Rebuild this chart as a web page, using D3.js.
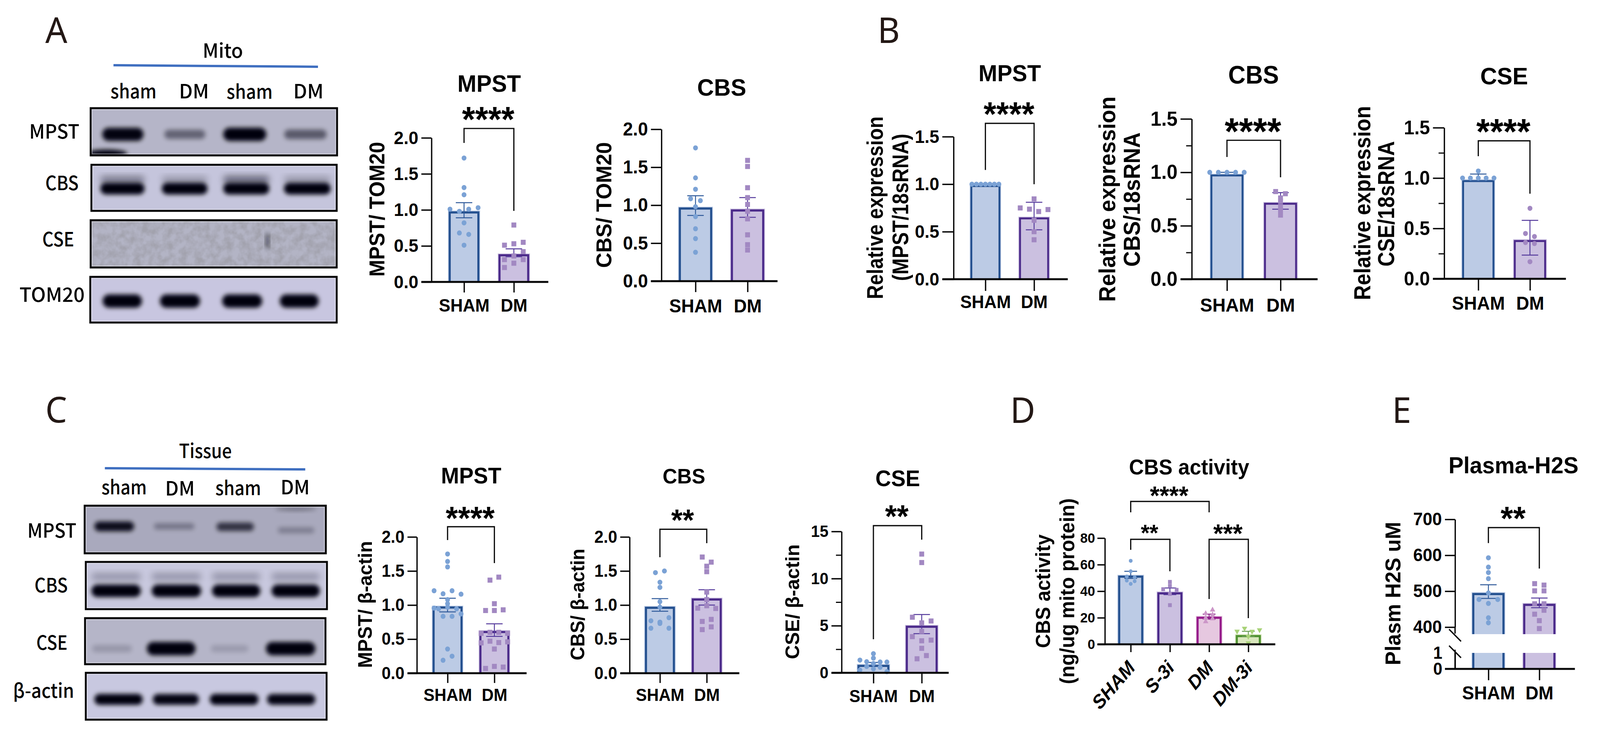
<!DOCTYPE html>
<html>
<head>
<meta charset="utf-8">
<style>
  html, body { margin: 0; background: #fff; overflow: hidden; }
  svg { display: block; width: 100vw; height: 100vh; }
</style>
<script src="https://cdn.jsdelivr.net/npm/d3@7"></script>
</head>
<body>
<svg id="chart" viewBox="0 0 4272 1872" preserveAspectRatio="none"></svg>
<script>
// swarm values: each inner array is one row of the Prism scatter, read left to right
const twoGroups = ["SHAM", "DM"];
const fourGroups = ["SHAM", "S-3i", "DM", "DM-3i"];

const ticksTwo = [0, 0.5, 1, 1.5, 2];
const ticksOneFive = [0, 0.5, 1, 1.5];
const minorOneFive = [0.25, 0.75, 1.25];
const ticksFifteen = [0, 5, 10, 15];
const minorFifteen = [2.5, 7.5, 12.5];
const ticksEighty = [0, 20, 40, 60, 80];
const ticksPlasma = [400, 500, 600, 700];

const aMpstSham = [[1.72], [1.31], [1.21], [1.01, 0.98, 1.01, 1.03], [0.82], [0.68, 0.66], [0.51]];
const aMpstDm = [[0.79], [0.51, 0.53, 0.55], [0.31, 0.36, 0.42], [0.2, 0.26, 0.31]];
const aMpstMean = [0.98, 0.385];
const aMpstHi = [1.1, 0.46];
const aMpstLo = [0.89, 0.35];

const aCbsSham = [[1.755], [1.36], [1.21], [1.085, 1.06], [0.98], [0.85], [0.69], [0.56], [0.38]];
const aCbsDm = [[1.59], [1.51], [1.23], [1.1], [1.01], [0.92], [0.82], [0.61], [0.48], [0.41]];
const aCbsMean = [0.97, 0.945];
const aCbsHi = [1.125, 1.1];
const aCbsLo = [0.865, 0.84];

const bMpstSham = [[1, 1, 1, 1, 1, 1, 1]];
const bMpstDm = [[0.845], [0.75, 0.737, 0.712, 0.733], [0.62], [0.5], [0.415]];
const bMpstMean = [0.99, 0.65];
const bMpstHi = [1, 0.81];
const bMpstLo = [0.98, 0.52];

const bCbsSham = [[1, 1, 1, 1, 1]];
const bCbsDm = [[0.82, 0.8], [0.76], [0.73], [0.68], [0.645], [0.6]];
const bCbsMean = [0.98, 0.715];
const bCbsHi = [1, 0.81];
const bCbsLo = [0.97, 0.655];

const bCseSham = [[1.07], [1, 1, 1, 1, 1]];
const bCseDm = [[0.7], [0.45, 0.42], [0.36, 0.35], [0.17]];
const bCseMean = [0.98, 0.385];
const bCseHi = [1.04, 0.58];
const bCseLo = [0.97, 0.235];

const cMpstSham = [[1.75], [1.64], [1.56], [1.21, 1.166, 1.21, 1.16], [1.08], [1.02], [0.945, 0.97, 0.945], [0.955, 0.835, 0.835, 0.87], [0.355], [0.19, 0.25]];
const cMpstDm = [[1.366, 1.41], [1.02], [0.92, 0.92, 0.93], [0.585, 0.6, 0.6, 0.585], [0.445, 0.47, 0.45, 0.46], [0.355], [0.07, 0.1, 0.09]];
const cMpstMean = [0.98, 0.62];
const cMpstHi = [1.1, 0.725];
const cMpstLo = [0.9, 0.54];

const cCbsSham = [[1.476, 1.5], [1.335], [1.26], [1.05], [0.97], [0.77, 0.73, 0.815], [0.66, 0.75, 0.66]];
const cCbsDm = [[1.705, 1.63], [1.57], [1.49], [1.19], [1.08], [0.955, 0.99, 0.95], [0.76, 0.79], [0.64, 0.68]];
const cCbsMean = [0.975, 1.097];
const cCbsHi = [1.095, 1.225];
const cCbsLo = [0.91, 1];

const cCseSham = [[2.03], [1.35, 1.18, 1.56, 1.15, 1.15], [0.98], [0.29, 0.68, 0.42, 0.59, 0.12]];
const cCseDm = [[12.6], [11.7], [5.9, 5.3, 5.5], [4.4], [3.84, 3.4, 3.47], [2.6], [1.49, 1.83]];
const cCseMean = [0.85, 5];
const cCseHi = [1.1, 6.18];
const cCseLo = [0.72, 4.15];

const dSham = [[62.9], [55], [51, 50.5], [48, 47.5], [45.5]];
const dS3i = [[47], [44], [41.5, 41], [38], [29.5]];
const dDm = [[23.2, 25.9], [19.8, 22.3], [17.1, 19.3]];
const dDm3i = [[9.8, 12, 9.7, 10.8], [5.9], [1]];
const dMean = [51.8, 39.2, 20.8, 7];
const dHi = [55, 42.4, 22.7, 9.8];
const dLo = [49.6, 37.4, 19, 5.9];

const eSham = [[593], [567], [552], [535], [495], [477, 466, 477], [426], [412]];
const eDm = [[521, 517], [501, 501], [465, 465], [436, 447], [418], [396]];
const eMean = [495, 465];
const eHi = [518, 481];
const eLo = [480, 454];

// band darkness per lane for the blots
const mitoMpst = [0.98, 0.45, 1, 0.5];
const mitoCbs = [1, 1, 1, 1];
const mitoCbsUpper = [0.45, 0.3, 0.55, 0.3];
const mitoTom = [1, 1, 1, 1];
const tissueMpst = [0.92, 0.3, 0.7, 0.25];
const tissueCbs = [1, 1, 1, 1];
const tissueCbsUpper = [0.3, 0.3, 0.3, 0.3];
const tissueCse = [0.16, 1, 0.14, 1];
const tissueActin = [1, 0.98, 1, 0.98];

const blue = { stroke: "#24508f", fill: "#bccbe5", point: "#7ba2d5", err: "#2f5a9a", shape: d3.symbolCircle };
const purple = { stroke: "#4b2a8a", fill: "#cbc0e0", point: "#a288c2", err: "#553a9c", shape: d3.symbolSquare };
const purpleDots = { ...purple, shape: d3.symbolCircle };
const pink = { stroke: "#951a8a", fill: "#e6c8e0", point: "#cc96c8", err: "#8d2a8c", shape: d3.symbolTriangle };
const green = { stroke: "#4e9130", fill: "#d9e7bd", point: "#a8d278", err: "#6d9f58", shape: d3.symbolTriangle, flip: true };

const FONT = "'Liberation Sans', Arial, sans-serif";
const BLOT_FONT = "'Noto Sans CJK SC', 'Noto Sans', sans-serif";

const svg = d3.select("#chart");
const defs = svg.append("defs");

defs.append("filter").attr("id", "blur").attr("x", "-30%").attr("y", "-80%").attr("width", "160%").attr("height", "260%")
    .append("feGaussianBlur").attr("stdDeviation", 6);
defs.append("filter").attr("id", "softBlur").attr("x", "-30%").attr("y", "-80%").attr("width", "160%").attr("height", "260%")
    .append("feGaussianBlur").attr("stdDeviation", 9);
const grain = defs.append("filter").attr("id", "grain");
grain.append("feTurbulence").attr("type", "fractalNoise").attr("baseFrequency", 0.05).attr("numOctaves", 3).attr("seed", 4);
grain.append("feColorMatrix").attr("values", "0 0 0 0 0.36  0 0 0 0 0.36  0 0 0 0 0.42  2.2 0 0 0 -0.7");

const fitText = (g, text, x, y, len, size, family, weight) =>
    g.append("text")
        .attr("x", x)
        .attr("y", y)
        .attr("textLength", len)
        .attr("lengthAdjust", "spacingAndGlyphs")
        .attr("font-family", family)
        .attr("font-weight", weight)
        .attr("font-size", size)
        .attr("fill", "#000")
        .text(text);

const drawBlot = (g, b) => {
    const id = `clip${b.x0}-${b.y0}`;
    defs.append("clipPath").attr("id", id).append("rect")
        .attr("x", b.x0).attr("y", b.y0).attr("width", b.x1 - b.x0).attr("height", b.y1 - b.y0);
    const inner = g.append("g").attr("clip-path", `url(#${id})`);
    inner.append("rect")
        .attr("x", b.x0).attr("y", b.y0).attr("width", b.x1 - b.x0).attr("height", b.y1 - b.y0)
        .attr("fill", b.bg);
    if (b.noise) {
        inner.append("rect")
            .attr("x", b.x0).attr("y", b.y0).attr("width", b.x1 - b.x0).attr("height", b.y1 - b.y0)
            .attr("filter", "url(#grain)");
    }
    const band = (values, rowY, rowH, blur) => {
        const lanes = d3.range(values.length);
        const opacity = d3.scaleLinear().domain([0, 1]).range([0, 1]);
        const thick = d3.scaleLinear().domain([0, 1]).range([rowH * 0.45, rowH]);
        inner.append("g").selectAll("rect").data(lanes).enter().append("rect")
            .attr("x", i => b.lanes[i][0])
            .attr("width", i => b.lanes[i][1] - b.lanes[i][0])
            .attr("y", i => rowY[i] - thick(values[i]) / 2)
            .attr("height", i => thick(values[i]))
            .attr("rx", i => thick(values[i]) / 2)
            .attr("fill", "#020208")
            .attr("opacity", i => opacity(values[i]))
            .attr("filter", blur);
    };
    if (b.upper) band(b.upper, b.lanes.map(() => b.upperY), b.upperH, "url(#softBlur)");
    band(b.values, b.rowY || b.lanes.map(() => b.y), b.h, "url(#blur)");
    (b.extras || []).forEach(e => {
        inner.append("ellipse")
            .attr("cx", e.cx).attr("cy", e.cy).attr("rx", e.rx).attr("ry", e.ry)
            .attr("fill", "#020208").attr("opacity", e.o).attr("filter", "url(#blur)");
    });
    g.append("rect")
        .attr("x", b.x0).attr("y", b.y0).attr("width", b.x1 - b.x0).attr("height", b.y1 - b.y0)
        .attr("fill", "none").attr("stroke", "#050505").attr("stroke-width", 5);
    g.append("rect")
        .attr("x", b.x0 + 4).attr("y", b.y0 + 4).attr("width", b.x1 - b.x0 - 8).attr("height", b.y1 - b.y0 - 8)
        .attr("fill", "none").attr("stroke", "#fff").attr("stroke-opacity", 0.4).attr("stroke-width", 2);
    fitText(g, b.label, b.lx0, b.ly, b.lx1 - b.lx0, 50, BLOT_FONT, 500);
};

const drawBlotPanel = (p) => {
    const g = svg.append("g");
    fitText(g, p.head[0], p.head[1], p.head[3], p.head[2] - p.head[1], 50, BLOT_FONT, 500);
    g.append("path")
        .attr("d", d3.line()(p.rule))
        .attr("stroke", "#3f6fc0").attr("stroke-width", 6).attr("fill", "none");
    p.laneLabels.forEach(l => fitText(g, l[0], l[1], l[3], l[2] - l[1], 50, BLOT_FONT, 500));
    p.blots.forEach(b => drawBlot(g, b));
};

const drawStars = (g, stars, x, y, size) =>
    g.append("text")
        .attr("x", x)
        .attr("y", y + size * 0.57)
        .attr("text-anchor", "middle")
        .attr("font-family", FONT)
        .attr("font-weight", 700)
        .attr("font-size", size)
        .text(stars);

const drawGroupPoints = (g, rows, cx, y, c, step, size) => {
    const pts = [];
    rows.forEach(row => row.forEach((v, i) => pts.push({ v, x: cx + (i - (row.length - 1) / 2) * step })));
    g.append("g").selectAll("path").data(pts).enter().append("path")
        .attr("d", d3.symbol().type(c.shape).size(c.shape === d3.symbolCircle ? Math.PI * size * size / 4 : c.shape === d3.symbolSquare ? size * size : size * size * 0.9))
        .attr("transform", d => `translate(${d.x},${y(d.v)})${c.flip ? " rotate(180)" : ""}`)
        .attr("fill", c.point);
};

const drawBar = (g, cx, w, top, bottom, c, sw, closedTop) => {
    g.append("rect")
        .attr("x", cx - w / 2 - 2).attr("width", w + 4)
        .attr("y", closedTop ? top - 2 : top).attr("height", bottom - top + (closedTop ? 2 : 0))
        .attr("fill", c.fill);
    const d = closedTop
        ? `M${cx - w / 2 + sw / 2},${bottom}V${top + sw / 2}H${cx + w / 2 - sw / 2}V${bottom}`
        : `M${cx - w / 2 + sw / 2},${top}V${bottom}M${cx + w / 2 - sw / 2},${top}V${bottom}`;
    g.append("path").attr("d", d).attr("fill", "none").attr("stroke", c.stroke).attr("stroke-width", sw);
};

const drawErr = (g, cx, y, hi, lo, c, cap) => {
    const e = g.append("g").attr("stroke", c.err).attr("fill", "none");
    e.append("line").attr("x1", cx).attr("x2", cx).attr("y1", y(hi)).attr("y2", y(lo)).attr("stroke-width", 2.5);
    [hi, lo].forEach(v => e.append("line")
        .attr("x1", cx - cap).attr("x2", cx + cap).attr("y1", y(v)).attr("y2", y(v)).attr("stroke-width", 2.5));
};

const drawBracket = (g, x, y, b, starOffset) => {
    g.append("path")
        .attr("d", d3.line()([[x(b.from), y(b.left)], [x(b.from), y(b.top)], [x(b.to), y(b.top)], [x(b.to), y(b.right)]]))
        .attr("fill", "none").attr("stroke", "#0a0a0a").attr("stroke-width", 3.2);
    drawStars(g, b.stars, (x(b.from) + x(b.to)) / 2 + starOffset, y(b.starAt), b.starSize);
};

const drawTitle = (g, t) =>
    g.append("text")
        .attr("x", t.x).attr("y", t.y)
        .attr("text-anchor", "middle")
        .attr("font-family", FONT).attr("font-weight", 700).attr("font-size", t.size)
        .text(t.text);

const drawYLabel = (g, l) =>
    g.append("text")
        .attr("transform", `translate(${l.x + l.size * 0.36},${l.y}) rotate(-90)`)
        .attr("text-anchor", "middle")
        .attr("textLength", l.len)
        .attr("lengthAdjust", "spacingAndGlyphs")
        .attr("font-family", FONT).attr("font-weight", 700).attr("font-size", l.size)
        .text(l.text);

const styleAxis = (a, width, size) => {
    a.attr("font-family", FONT).attr("font-weight", 700).attr("font-size", size);
    a.selectAll("text").attr("fill", "#000");
    a.selectAll("line").attr("stroke", "#050505").attr("stroke-width", width);
    a.selectAll("path").attr("stroke", "#050505").attr("stroke-width", width);
};

const drawPanel = (p) => {
    const g = svg.append("g");
    const x = d3.scalePoint().domain(p.groups).range(p.centers);
    const y = d3.scaleLinear().domain([0, p.top]).range([p.y0, p.y1]);

    p.groups.forEach((name, i) => {
        drawBar(g, x(name), p.barW, y(p.mean[i]), p.y0, p.colors[i], p.barStroke || 5.5, true);
    });
    p.groups.forEach((name, i) => {
        drawErr(g, x(name), y, p.hi[i], p.lo[i], p.colors[i], p.cap || 22);
        drawGroupPoints(g, p.points[i], x(name), y, p.colors[i], p.steps[i], p.mark || 13);
    });

    const yAxis = g.append("g")
        .attr("transform", `translate(${p.axisX},0)`)
        .call(d3.axisLeft(y).tickValues(p.ticks).tickFormat(d3.format(p.format)).tickSize(p.tickL).tickPadding(p.pad || 8).tickSizeOuter(0));
    styleAxis(yAxis, 3.5, p.tickFont);
    if (p.minor) {
        const minor = g.append("g")
            .attr("transform", `translate(${p.axisX},0)`)
            .call(d3.axisLeft(y).tickValues(p.minor).tickFormat("").tickSize(p.minorL || 15).tickSizeOuter(0));
        minor.select(".domain").remove();
        styleAxis(minor, 3, p.tickFont);
    }

    const xAxis = g.append("g")
        .attr("transform", `translate(0,${p.y0})`)
        .call(d3.axisBottom(x).tickSize(p.xTickL || p.tickL).tickSizeOuter(0));
    xAxis.select(".domain").remove();
    styleAxis(xAxis, 3.5, p.xFont);
    if (p.rotated) {
        xAxis.selectAll("text")
            .attr("text-anchor", "end")
            .attr("dy", 0).attr("y", 0)
            .attr("font-style", "italic")
            .attr("transform", d => `translate(${p.rotated.dx},${p.rotated.dy}) rotate(-48)`);
    } else {
        xAxis.selectAll("text").attr("dy", 0).attr("y", p.labelY - p.y0);
    }
    g.append("line")
        .attr("x1", p.axisX - p.tickL).attr("x2", p.xEnd)
        .attr("y1", p.y0).attr("y2", p.y0)
        .attr("stroke", "#050505").attr("stroke-width", 5);

    (p.brackets || []).forEach(b => drawBracket(g, x, y, b, -2));
    drawTitle(g, p.title);
    p.yLabels.forEach(l => drawYLabel(g, l));
};

const drawPlasma = () => {
    const g = svg.append("g");
    const x = d3.scalePoint().domain(twoGroups).range([3974, 4110]);
    const upper = d3.scaleLinear().domain([400, 700]).range([1606, 1330]);
    const lower = d3.scaleLinear().domain([0, 1]).range([1713, 1672]);
    const barW = 86;
    const colors = [blue, purple];

    twoGroups.forEach((name, i) => {
        drawBar(g, x(name), barW, upper(eMean[i]), upper(380.5), colors[i], 5.5, true);
        drawBar(g, x(name), barW, lower(1), lower(0), colors[i], 5.5, false);
    });
    [eSham, eDm].forEach((rows, i) => {
        drawErr(g, x(twoGroups[i]), upper, eHi[i], eLo[i], colors[i], 22);
        drawGroupPoints(g, rows, x(twoGroups[i]), upper, colors[i], 25, 13);
    });

    const top = g.append("g").attr("transform", "translate(3885,0)")
        .call(d3.axisLeft(upper).tickValues(ticksPlasma).tickSize(27).tickPadding(8).tickSizeOuter(0));
    styleAxis(top, 3.5, 46);
    const bottom = g.append("g").attr("transform", "translate(3885,0)")
        .call(d3.axisLeft(lower).tickValues([0, 1]).tickFormat(d3.format("d")).tickSize(0).tickPadding(34).tickSizeOuter(0));
    styleAxis(bottom, 3.5, 44);
    const axisEdge = g.append("g").attr("stroke", "#050505").attr("stroke-width", 3.5);
    axisEdge.append("line").attr("x1", 3885).attr("x2", 3885).attr("y1", upper(400)).attr("y2", upper(382));
    axisEdge.append("line").attr("x1", 3885).attr("x2", 3885).attr("y1", lower(1.2)).attr("y2", lower(0));
    const slashes = g.append("g").attr("stroke", "#050505").attr("stroke-width", 3.5);
    [upper(394), lower(1.45)].forEach(yy => slashes.append("line")
        .attr("x1", 3869).attr("x2", 3901).attr("y1", yy).attr("y2", yy + 31));

    const xAxis = g.append("g").attr("transform", `translate(0,${lower(0)})`)
        .call(d3.axisBottom(x).tickSize(29).tickSizeOuter(0));
    xAxis.select(".domain").remove();
    styleAxis(xAxis, 3.5, 48);
    xAxis.selectAll("text").attr("dy", 0).attr("y", 1791 - lower(0));
    g.append("line").attr("x1", 3858).attr("x2", 4205).attr("y1", lower(0)).attr("y2", lower(0))
        .attr("stroke", "#050505").attr("stroke-width", 5);

    drawBracket(g, x, upper, { from: "SHAM", to: "DM", top: 677, left: 634, right: 563, stars: "**", starAt: 724, starSize: 86 }, -2);
    drawTitle(g, { text: "Plasma-H2S", x: 4041, y: 1212, size: 60 });
    drawYLabel(g, { text: "Plasm  H2S uM", x: 3718, y: 1520, len: 367, size: 58 });
};

// panel letters
const letters = [["A", 121, 110], ["B", 2343, 110], ["C", 121, 1082], ["D", 2697, 1083], ["E", 3717, 1083]];
svg.append("g").selectAll("text").data(letters).enter().append("text")
    .attr("x", d => d[1]).attr("y", d => d[2])
    .attr("font-family", "'Noto Sans', sans-serif").attr("font-size", 92).attr("fill", "#231815")
    .text(d => d[0]);

drawBlotPanel({
    head: ["Mito", 541, 649, 148],
    rule: [[303, 167], [849, 171]],
    laneLabels: [["sham", 295, 418, 252], ["DM", 478, 558, 252], ["sham", 605, 728, 253], ["DM", 783, 864, 252]],
    blots: [
        { x0: 242, x1: 900, y0: 277, y1: 398, bg: "#b5b5c8", values: mitoMpst, y: 344, h: 34, lanes: [[273, 383], [439, 548], [596, 711], [759, 872]],
          extras: [{ cx: 285, cy: 393, rx: 55, ry: 10, o: 1 }], label: "MPST", lx0: 78, lx1: 212, ly: 355 },
        { x0: 244, x1: 899, y0: 422, y1: 540, bg: "#c5c5dc", values: mitoCbs, y: 483, h: 30, upper: mitoCbsUpper, upperY: 460, upperH: 22, lanes: [[268, 386], [432, 554], [596, 719], [758, 883]],
          label: "CBS", lx0: 121, lx1: 210, ly: 487 },
        { x0: 242, x1: 899, y0: 564, y1: 685, bg: "#b3b4c5", noise: true, values: [0, 0, 0, 0], y: 620, h: 10, lanes: [[268, 386], [432, 554], [596, 719], [758, 883]],
          extras: [{ cx: 714, cy: 617, rx: 5, ry: 22, o: 0.6 }], label: "CSE", lx0: 113, lx1: 198, ly: 631 },
        { x0: 241, x1: 899, y0: 709, y1: 826, bg: "#c8c6e0", values: mitoTom, y: 771, h: 34, lanes: [[274, 379], [427, 534], [593, 700], [747, 851]],
          label: "TOM20", lx0: 52, lx1: 226, ly: 773 }
    ]
});

drawBlotPanel({
    head: ["Tissue", 478, 619, 1173],
    rule: [[280, 1199], [815, 1202]],
    laneLabels: [["sham", 271, 392, 1266], ["DM", 441, 520, 1269], ["sham", 575, 697, 1268], ["DM", 749, 827, 1266]],
    blots: [
        { x0: 226, x1: 870, y0: 1295, y1: 1417, bg: "#a9a9bd", values: tissueMpst, rowY: [1348, 1348, 1349, 1358], h: 26, lanes: [[252, 358], [411, 519], [578, 678], [742, 839]],
          extras: [{ cx: 790, cy: 1303, rx: 55, ry: 5, o: 0.35 }], label: "MPST", lx0: 73, lx1: 204, ly: 1377 },
        { x0: 229, x1: 873, y0: 1439, y1: 1560, bg: "#c8c8de", values: tissueCbs, y: 1513, h: 32, upper: tissueCbsUpper, upperY: 1477, upperH: 26, lanes: [[244, 376], [405, 537], [566, 695], [725, 854]],
          label: "CBS", lx0: 92, lx1: 181, ly: 1517 },
        { x0: 227, x1: 869, y0: 1583, y1: 1701, bg: "#b5b5c8", values: tissueCse, y: 1661, h: 34, lanes: [[246, 352], [392, 522], [563, 663], [710, 842]],
          label: "CSE", lx0: 97, lx1: 180, ly: 1664 },
        { x0: 229, x1: 872, y0: 1723, y1: 1843, bg: "#c8c8e0", values: tissueActin, y: 1791, h: 28, lanes: [[252, 381], [408, 531], [560, 690], [713, 842]],
          label: "β-actin", lx0: 35, lx1: 198, ly: 1787 }
    ]
});

const panels = [
    {
        groups: twoGroups, centers: [1239, 1372], top: 2, y0: 722, y1: 353, axisX: 1152, xEnd: 1464, barW: 82, tickL: 27, ticks: ticksTwo, format: ".1f",
        tickFont: 47, xFont: 46, labelY: 798, colors: [blue, purple], points: [aMpstSham, aMpstDm], steps: [25, 25], mean: aMpstMean, hi: aMpstHi, lo: aMpstLo,
        brackets: [{ from: "SHAM", to: "DM", top: 2.13, left: 1.93, right: 0.986, stars: "****", starAt: 2.363, starSize: 90 }],
        title: { text: "MPST", x: 1306, y: 235, size: 61 },
        yLabels: [{ text: "MPST/ TOM20", x: 1005, y: 536, len: 345, size: 58 }]
    },
    {
        groups: twoGroups, centers: [1857, 1996], top: 2, y0: 720, y1: 331, axisX: 1766, xEnd: 2076, barW: 89, tickL: 28, ticks: ticksTwo, format: ".1f",
        tickFont: 48, xFont: 48, labelY: 800, colors: [blue, purple], points: [aCbsSham, aCbsDm], steps: [26, 26], mean: aCbsMean, hi: aCbsHi, lo: aCbsLo,
        title: { text: "CBS", x: 1927, y: 245, size: 62 },
        yLabels: [{ text: "CBS/ TOM20", x: 1611, y: 525, len: 322, size: 58 }]
    },
    {
        groups: twoGroups, centers: [2631, 2761], top: 1.5, y0: 715, y1: 350, axisX: 2546, xEnd: 2851, barW: 80, tickL: 30, ticks: ticksOneFive, format: ".1f",
        tickFont: 47, xFont: 46, labelY: 789, colors: [blue, purple], points: [bMpstSham, bMpstDm], steps: [12, 24.7], mean: bMpstMean, hi: bMpstHi, lo: bMpstLo, barStroke: 5,
        brackets: [{ from: "SHAM", to: "DM", top: 1.64, left: 1.15, right: 1, stars: "****", starAt: 1.82, starSize: 87 }],
        title: { text: "MPST", x: 2696, y: 208, size: 60 },
        yLabels: [
            { text: "Relative expression", x: 2336, y: 532, len: 468, size: 60 },
            { text: "(MPST/18sRNA)", x: 2403, y: 531, len: 377, size: 60 }
        ]
    },
    {
        groups: twoGroups, centers: [3276, 3419], top: 1.5, y0: 715, y1: 304.5, axisX: 3182, xEnd: 3518, barW: 88, tickL: 30, ticks: ticksOneFive, minor: minorOneFive, format: ".1f",
        tickFont: 52, xFont: 49, labelY: 798, colors: [blue, purple], points: [bCbsSham, bCbsDm], steps: [23, 26], mean: bCbsMean, hi: bCbsHi, lo: bCbsLo, barStroke: 5,
        brackets: [{ from: "SHAM", to: "DM", top: 1.3, left: 1.144, right: 0.954, stars: "****", starAt: 1.465, starSize: 97 }],
        title: { text: "CBS", x: 3347, y: 214, size: 64 },
        yLabels: [
            { text: "Relative expression", x: 2955, y: 510, len: 526, size: 62 },
            { text: "CBS/18sRNA", x: 3021, y: 511, len: 344, size: 62 }
        ]
    },
    {
        groups: twoGroups, centers: [3947, 4085], top: 1.5, y0: 714, y1: 327, axisX: 3856, xEnd: 4181, barW: 86, tickL: 30, ticks: ticksOneFive, minor: minorOneFive, format: ".1f",
        tickFont: 50, xFont: 48, labelY: 793, colors: [blue, purpleDots], points: [bCseSham, bCseDm], steps: [21, 24], mean: bCseMean, hi: bCseHi, lo: bCseLo, barStroke: 5,
        brackets: [{ from: "SHAM", to: "DM", top: 1.37, left: 1.217, right: 0.845, stars: "****", starAt: 1.543, starSize: 93 }],
        title: { text: "CSE", x: 4016, y: 216, size: 62 },
        yLabels: [
            { text: "Relative expression", x: 3636, y: 520, len: 497, size: 62 },
            { text: "CSE/18sRNA", x: 3700, y: 522, len: 321, size: 62 }
        ]
    },
    {
        groups: twoGroups, centers: [1195, 1320], top: 2, y0: 1724, y1: 1375, axisX: 1113, xEnd: 1406, barW: 80, tickL: 25, ticks: ticksTwo, format: ".1f",
        tickFont: 44, xFont: 44, labelY: 1795, colors: [blue, purple], points: [cMpstSham, cMpstDm], steps: [24, 23.5], mean: cMpstMean, hi: cMpstHi, lo: cMpstLo,
        brackets: [{ from: "SHAM", to: "DM", top: 2.15, left: 1.954, right: 1.616, stars: "****", starAt: 2.384, starSize: 84 }],
        title: { text: "MPST", x: 1258, y: 1238, size: 58 },
        yLabels: [{ text: "MPST/ β-actin", x: 974, y: 1548, len: 325, size: 52 }]
    },
    {
        groups: twoGroups, centers: [1762, 1887], top: 2, y0: 1724, y1: 1375, axisX: 1681, xEnd: 1974, barW: 80, tickL: 25, ticks: ticksTwo, format: ".1f",
        tickFont: 44, xFont: 44, labelY: 1795, colors: [blue, purple], points: [cCbsSham, cCbsDm], steps: [24, 24], mean: cCbsMean, hi: cCbsHi, lo: cCbsLo,
        brackets: [{ from: "SHAM", to: "DM", top: 2.112, left: 1.702, right: 1.908, stars: "**", starAt: 2.344, starSize: 78 }],
        title: { text: "CBS", x: 1826, y: 1238, size: 54 },
        yLabels: [{ text: "CBS/ β-actin", x: 1542, y: 1548, len: 286, size: 52 }]
    },
    {
        groups: twoGroups, centers: [2332, 2461], top: 15, y0: 1723, y1: 1361, axisX: 2247, xEnd: 2533, barW: 85, tickL: 27, ticks: ticksFifteen, minor: minorFifteen, format: "d",
        tickFont: 42, xFont: 44, labelY: 1798, colors: [blue, purple], points: [cCseSham, cCseDm], steps: [18, 25], mean: cCseMean, hi: cCseHi, lo: cCseLo,
        brackets: [{ from: "SHAM", to: "DM", top: 15.62, left: 3.56, right: 14.13, stars: "**", starAt: 17.36, starSize: 81 }],
        title: { text: "CSE", x: 2397, y: 1245, size: 58 },
        yLabels: [{ text: "CSE/ β-actin", x: 2115, y: 1541, len: 294, size: 52 }]
    },
    {
        groups: fourGroups, centers: [3019, 3333], top: 80, y0: 1650, y1: 1378, axisX: 2950, xEnd: 3405, barW: 67, tickL: 20, ticks: ticksEighty, format: "d", pad: 6,
        tickFont: 36, xFont: 49, rotated: { dx: 14, dy: 62 }, colors: [blue, purple, pink, green], points: [dSham, dS3i, dDm, dDm3i], steps: [21, 36, 18.3, 20], mean: dMean, hi: dHi, lo: dLo, cap: 17, mark: 10,
        brackets: [
            { from: "SHAM", to: "DM", top: 107.6, left: 99.4, right: 99.4, stars: "****", starAt: 116.5, starSize: 66 },
            { from: "SHAM", to: "S-3i", top: 79.1, left: 71.2, right: 55, stars: "**", starAt: 87.9, starSize: 60 },
            { from: "DM", to: "DM-3i", top: 79.1, left: 34.1, right: 19.7, stars: "***", starAt: 87.9, starSize: 67 }
        ],
        title: { text: "CBS activity", x: 3175, y: 1215, size: 55 },
        yLabels: [
            { text: "CBS activity", x: 2784, y: 1514, len: 291, size: 54 },
            { text: "(ng/ug mito protein)", x: 2849, y: 1514, len: 476, size: 54 }
        ]
    }
];

panels.forEach(drawPanel);
drawPlasma();
</script>
</body>
</html>
